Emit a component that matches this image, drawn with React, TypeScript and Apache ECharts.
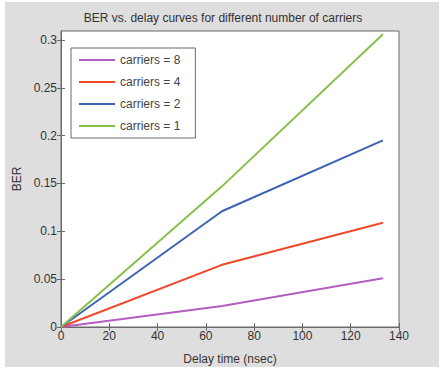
import React, { useEffect, useRef } from "react";
import * as echarts from "echarts";

const delays = [0, 66.67, 133.33];
const seriesNames = ["carriers = 8", "carriers = 4", "carriers = 2", "carriers = 1"];
const ber8 = [0, 0.022, 0.051];
const ber4 = [0, 0.065, 0.109];
const ber2 = [0, 0.121, 0.195];
const ber1 = [0, 0.147, 0.306];
const seriesColors = ["#b35ec0", "#f0482a", "#3d64b4", "#86c04a"];
const yTicks = [0, 0.05, 0.1, 0.15, 0.2, 0.25, 0.3];
const titleText = "BER vs. delay curves for different number of carriers";
const xName = "Delay time (nsec)";
const yName = "BER";

const FONT = "'Liberation Sans', Arial, sans-serif";

export default function App() {
  const ref = useRef<HTMLDivElement>(null);
  useEffect(() => {
    if (!ref.current) return;
    const chart = echarts.init(ref.current, undefined, { renderer: "svg" });
    const values = [ber8, ber4, ber2, ber1];
    const axisLine = { show: true, lineStyle: { color: "#6a6a6a", width: 1 } };
    const labelStyle = { color: "#333", fontFamily: FONT, fontSize: 12 };
    chart.setOption({
      animation: false,
      backgroundColor: "#ffffff",
      textStyle: { fontFamily: FONT },
      graphic: [
        {
          type: "rect",
          z: -10,
          silent: true,
          shape: { x: 5, y: 2, width: 434, height: 365 },
          style: { fill: "#dedede" },
        },
      ],
      title: {
        text: titleText,
        left: "center",
        top: 7,
        textStyle: { ...labelStyle, fontWeight: "normal" },
      },
      grid: {
        left: 61,
        top: 31,
        right: 47,
        bottom: 42,
        show: true,
        backgroundColor: "#ffffff",
        borderColor: "#6a6a6a",
        borderWidth: 1,
      },
      legend: {
        data: seriesNames,
        orient: "vertical",
        left: 71,
        top: 48,
        icon: "rect",
        itemWidth: 36,
        itemHeight: 2,
        itemGap: 10,
        padding: [6, 15, 6, 8],
        borderColor: "#6a6a6a",
        borderWidth: 1,
        backgroundColor: "#ffffff",
        textStyle: { ...labelStyle, color: "#444" },
      },
      xAxis: [
        {
          type: "value",
          min: 0,
          max: 140,
          interval: 20,
          name: xName,
          nameLocation: "middle",
          nameGap: 26,
          nameTextStyle: labelStyle,
          axisLine,
          axisTick: { show: true, inside: true, length: 4, lineStyle: { color: "#6a6a6a" } },
          axisLabel: { ...labelStyle, margin: 3 },
          splitLine: { show: false },
        },
        {
          type: "value",
          position: "top",
          min: 0,
          max: 140,
          interval: 20,
          axisLine,
          axisTick: { show: true, inside: true, length: 4, lineStyle: { color: "#6a6a6a" } },
          axisLabel: { show: false },
          splitLine: { show: false },
        },
      ],
      yAxis: [
        {
          type: "value",
          min: 0,
          max: 0.3094,
          name: yName,
          nameLocation: "middle",
          nameGap: 36,
          nameTextStyle: labelStyle,
          axisLine,
          axisTick: { show: true, inside: true, length: 4, customValues: yTicks, lineStyle: { color: "#6a6a6a" } },
          axisLabel: { ...labelStyle, margin: 4, customValues: yTicks },
          splitLine: { show: false },
        },
        {
          type: "value",
          position: "right",
          min: 0,
          max: 0.3094,
          axisLine,
          axisTick: { show: true, inside: true, length: 4, customValues: yTicks, lineStyle: { color: "#6a6a6a" } },
          axisLabel: { show: false },
          splitLine: { show: false },
        },
      ],
      series: seriesNames.map((name, i) => ({
        name,
        type: "line",
        xAxisIndex: 0,
        yAxisIndex: 0,
        data: delays.map((d, j) => [d, values[i][j]]),
        symbol: "none",
        color: seriesColors[i],
        lineStyle: { color: seriesColors[i], width: 2 },
      })),
    });
    return () => chart.dispose();
  }, []);
  return (
    <div
      ref={ref}
      style={{ position: "fixed", left: 0, top: 0, width: 446, height: 370 }}
    />
  );
}
